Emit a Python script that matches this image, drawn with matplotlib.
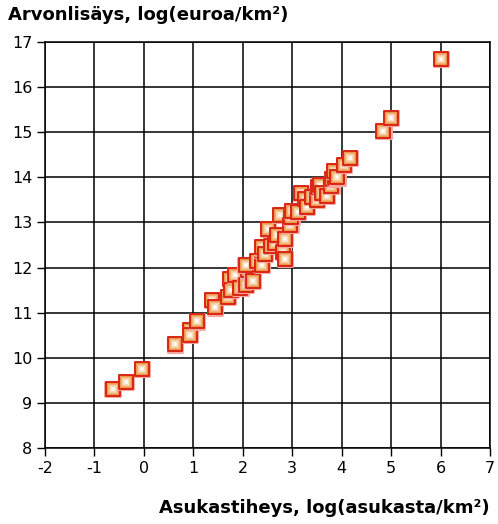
import matplotlib
matplotlib.use("Agg")
import matplotlib.pyplot as plt
import numpy as np

# asukastiheys (log) vs arvonlisäys (log)
density = [-0.63, -0.36, -0.04, 0.63, 0.93, 0.93, 1.07, 1.38, 1.44, 1.70,
           1.74, 1.76, 1.84, 1.95, 2.06, 2.11, 2.06, 2.20, 2.29, 2.39,
           2.39, 2.39, 2.45, 2.51, 2.57, 2.65, 2.69, 2.75, 2.81, 2.85,
           2.85, 2.96, 2.98, 3.00, 3.12, 3.18, 3.26, 3.30, 3.40, 3.50,
           3.52, 3.56, 3.60, 3.70, 3.79, 3.81, 3.87, 3.85, 3.91, 4.05,
           4.17, 4.84, 5.00, 6.01]
value_added = [9.31, 9.46, 9.75, 10.30, 10.61, 10.50, 10.81, 11.28, 11.12, 11.35,
               11.75, 11.50, 11.83, 11.55, 11.61, 11.94, 12.06, 11.70, 12.14, 12.06,
               12.39, 12.45, 12.30, 12.85, 12.48, 12.55, 12.72, 13.16, 12.34, 12.19,
               12.63, 12.94, 13.12, 13.25, 13.23, 13.65, 13.52, 13.35, 13.56, 13.50,
               13.78, 13.83, 13.65, 13.59, 13.81, 13.96, 13.98, 14.14, 14.00, 14.27,
               14.43, 15.03, 15.31, 16.62]

xticks = list(range(-2, 8))
yticks = list(range(8, 18))

fig = plt.figure(figsize=(4.98, 5.24), dpi=100)
ax = fig.add_axes([0.0904, 0.145, 0.8936, 0.775])

ax.set_xlim(-2, 7)
ax.set_ylim(8, 17)
ax.set_xticks(xticks)
ax.set_yticks(yticks)
ax.set_xticklabels([str(t) for t in xticks])
ax.set_yticklabels([str(t) for t in yticks])
ax.grid(True, color="black", linewidth=1.1)
ax.set_axisbelow(True)
for sp in ax.spines.values():
    sp.set_color("black")
    sp.set_linewidth(1.1)
ax.tick_params(direction="out", length=6, width=1, labelsize=11.5, colors="black", pad=3)

# gradient squares: orange rim -> white centre
c_out = np.array([0.93, 0.60, 0.30])
c_in = np.array([1.0, 1.0, 0.98])
n_layers = 8
for x, y in zip(density, value_added):
    ax.scatter([x], [y], s=110, marker="s", facecolor="none", edgecolor="#f4a8a0",
               linewidth=2.2, zorder=3)
    ax.scatter([x], [y], s=90, marker="s", facecolor=c_out, edgecolor="#d81c0c",
               linewidth=1.3, zorder=3)
    for i in range(1, n_layers):
        f = i / (n_layers - 1)
        side = 8.2 * (1 - 0.85 * f)
        col = c_out * (1 - f ** 0.8) + c_in * f ** 0.8
        ax.scatter([x], [y], s=side ** 2, marker="s", color=col, linewidth=0, zorder=3)

fig.text(0.016, 0.972, "Arvonlisäys, log(euroa/km²)", fontsize=13, fontweight="bold",
         ha="left", va="center")
fig.text(0.984, 0.031, "Asukastiheys, log(asukasta/km²)", fontsize=13, fontweight="bold",
         ha="right", va="center")

fig.savefig("out.png", dpi=100)
